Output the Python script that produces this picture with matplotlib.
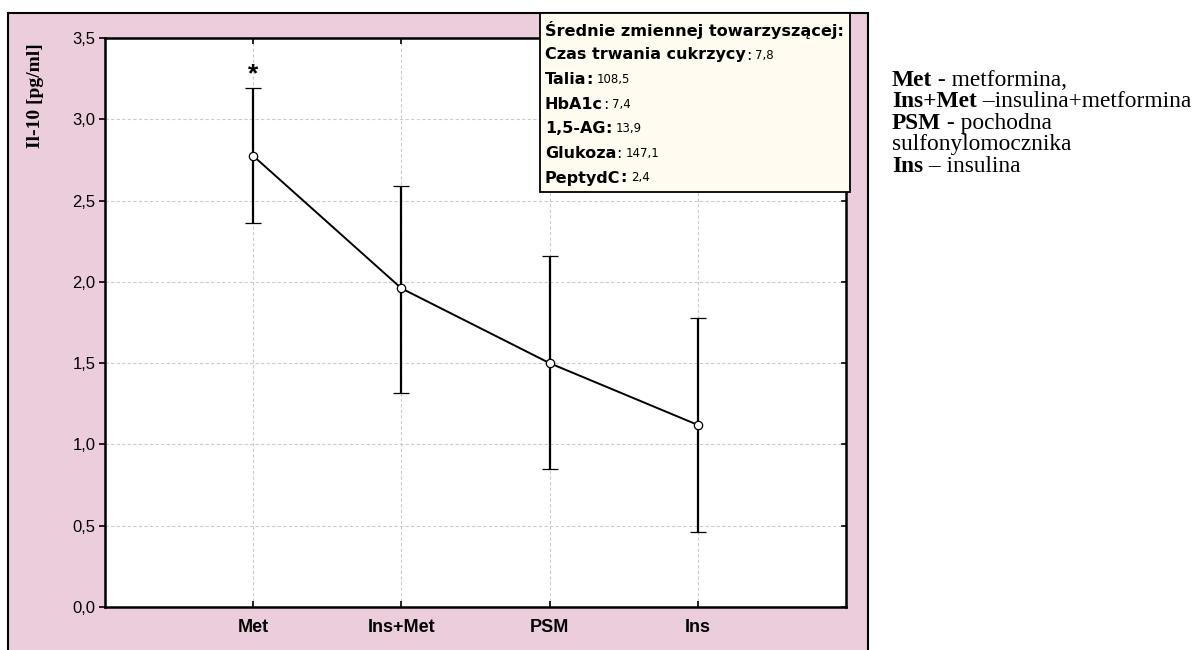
import matplotlib
matplotlib.use("Agg")
import matplotlib.pyplot as plt
from matplotlib.patches import Rectangle

groups = ["Met", "Ins+Met", "PSM", "Ins"]
means = [2.775, 1.96, 1.50, 1.12]
upper = [3.19, 2.59, 2.16, 1.775]
lower = [2.36, 1.315, 0.85, 0.46]

covariates = ["Czas trwania cukrzycy", "Talia", "HbA1c", "1,5-AG", "Glukoza", "PeptydC"]
colon_bold = [False, True, False, True, False, True]
cov_values = ["7,8", "108,5", "7,4", "13,9", "147,1", "2,4"]

abbrev = [("Met", " - metformina,"),
          ("Ins+Met", " \u2013insulina+metformina"),
          ("PSM", " - pochodna"),
          ("", "sulfonylomocznika"),
          ("Ins", " \u2013 insulina")]

W, H = 1199, 650
fig = plt.figure(figsize=(W / 100, H / 100), dpi=100)
fig.patch.set_facecolor("white")

# pink frame around the plot
fig.patches.append(Rectangle((8 / W, -0.01), 860 / W, (H - 13) / H + 0.01,
                             transform=fig.transFigure, facecolor="#ebcddc",
                             edgecolor="black", linewidth=1.5, zorder=-2))

ax = fig.add_axes([105 / W, (H - 607) / H, (846 - 105) / W, (607 - 38) / H])
ax.set_facecolor("white")

x = list(range(1, len(groups) + 1))
yerr = [[m - l for m, l in zip(means, lower)], [u - m for m, u in zip(means, upper)]]
ax.errorbar(x, means, yerr=yerr, color="black", linewidth=1.4, elinewidth=1.6,
            capsize=6, capthick=1.6, marker="o", markersize=6,
            markerfacecolor="white", markeredgecolor="black", markeredgewidth=0.9,
            zorder=3)

ax.text(1, 3.20, "*", ha="center", va="bottom", fontsize=19,
        family="Liberation Sans", fontweight="bold")

ax.set_xlim(0, 5)
ax.set_ylim(0, 3.5)
ax.set_xticks(x)
ax.set_xticklabels(groups, family="Liberation Sans", fontweight="bold", fontsize=13)
ax.set_yticks([i * 0.5 for i in range(8)])
ax.set_yticklabels([f"{i * 0.5:.1f}".replace(".", ",") for i in range(8)],
                   family="Liberation Sans", fontsize=12)
ax.tick_params(axis="x", direction="in", top=True, length=4, width=1.2, pad=9)
ax.tick_params(axis="y", direction="out", length=4, width=1.2, pad=3)
ax.grid(True, color="#cccccc", linestyle=(0, (3, 2)), linewidth=0.8)
ax.set_axisbelow(True)
for s in ax.spines.values():
    s.set_linewidth(1.8)

# inward ticks on the right spine
for yv in ax.get_yticks():
    ax.plot([4.97, 5], [yv, yv], color="black", linewidth=1.2, clip_on=False, zorder=4)

fig.text(35 / W, (H - 96) / H, "Il-10 [pg/ml]", rotation=90, ha="center", va="center",
         family="Liberation Serif", fontweight="bold", fontsize=14)

# covariate means box
fig.patches.append(Rectangle((540 / W, (H - 192) / H), 310 / W, 179 / H,
                             transform=fig.transFigure, facecolor="#fffbf0",
                             edgecolor="black", linewidth=1.3, zorder=5))
fig.text(545 / W, (H - 30) / H, "\u015arednie zmiennej towarzysz\u0105cej:",
         family="DejaVu Sans", fontweight="bold", fontsize=11.6, va="center", zorder=6)
for i, (name, val) in enumerate(zip(covariates, cov_values)):
    yy = (H - 55 - i * 24.6) / H
    t = fig.text(545 / W, yy, name, family="DejaVu Sans", fontweight="bold",
                 fontsize=11.5, va="center", zorder=6)
    fig.canvas.draw()
    xx = t.get_window_extent().x1
    t = fig.text(xx / W, yy, ":", family="DejaVu Sans", fontsize=11.5, va="center", zorder=6,
                 fontweight="bold" if colon_bold[i] else "normal")
    fig.canvas.draw()
    xx = t.get_window_extent().x1 + 4
    fig.text(xx / W, yy, val, family="DejaVu Sans", fontsize=8.5, va="center", zorder=6)

# abbreviations on the right
for i, (bold, rest) in enumerate(abbrev):
    yy = (H - 80 - i * 21.6) / H
    xx = 892 / W
    if bold:
        t = fig.text(xx, yy, bold, family="Liberation Serif", fontweight="bold",
                     fontsize=16.8, va="center")
        fig.canvas.draw()
        xx = t.get_window_extent().x1 / W
    fig.text(xx, yy, rest, family="Liberation Serif", fontsize=16.8, va="center")

fig.savefig("out.png", dpi=100)
